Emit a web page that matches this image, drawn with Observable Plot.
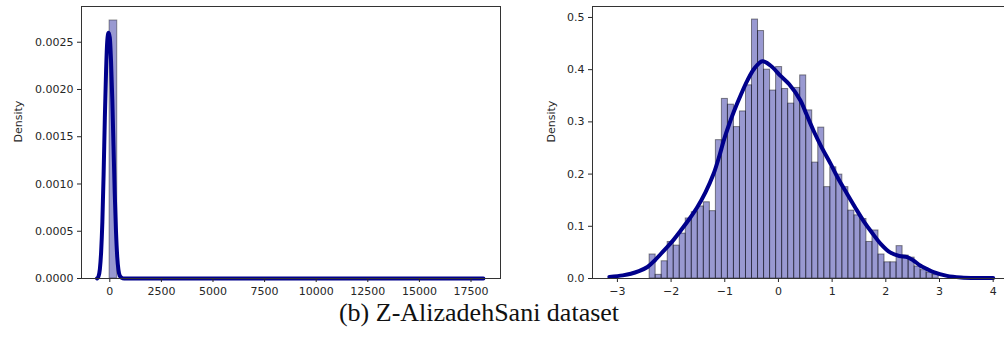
<!DOCTYPE html>
<html>
<head>
<meta charset="utf-8">
<script src="https://cdn.jsdelivr.net/npm/d3@7"></script>
<script src="https://cdn.jsdelivr.net/npm/@observablehq/plot@0.6"></script>
<style>
  html, body { margin: 0; padding: 0; background: #fff; }
  #wrap { position: relative; width: 1004px; height: 338px; overflow: hidden; background: #fff; }
  #left { position: absolute; left: 0; top: 0; width: 505px; }
  #right { position: absolute; left: 540px; top: 0; width: 472px; }
  #caption { position: absolute; left: 0; width: 958px; top: 298px; text-align: center;
    font-family: "Liberation Serif", "Times New Roman", serif; font-size: 26px; color: #111; }
</style>
</head>
<body>
<div id="wrap">
  <div id="left"></div>
  <div id="right"></div>
  <div id="caption">(b) Z-AlizadehSani dataset</div>
</div>
<script>
// ---------- Left panel (raw values) ----------
const leftXTicks = [0, 2500, 5000, 7500, 10000, 12500, 15000, 17500];
const leftYTicks = [0, 0.0005, 0.0010, 0.0015, 0.0020, 0.0025];
const leftBinStarts = [-10];
const leftBinEnds = [362];
const leftBinHeights = [0.00273];
const leftKdeX = [-620, -550, -480, -420, -360, -300, -240, -180, -120, -60, 0, 60, 120, 180, 240, 300, 360, 420, 480, 560, 700, 18100];
const leftKdeY = [0.0, 0.00002, 0.0001, 0.00028, 0.0006, 0.0011, 0.0017, 0.0022, 0.00252, 0.0026, 0.00255, 0.0023, 0.0019, 0.0014, 0.0009, 0.0005, 0.00023, 0.00009, 0.00003, 0.00001, 0.0, 0.0];

// ---------- Right panel (z-scored values) ----------
const rightXTicks = [-3, -2, -1, 0, 1, 2, 3, 4];
const rightYTicks = [0, 0.1, 0.2, 0.3, 0.4, 0.5];
const rightBinStart = -2.40;
const rightBinWidth = 0.1122;
const rightBinHeights = [
  0.046, 0.007, 0.033, 0.070, 0.063, 0.086, 0.115, 0.127, 0.138, 0.146,
  0.129, 0.265, 0.344, 0.333, 0.290, 0.320, 0.370, 0.496, 0.474, 0.400,
  0.360, 0.405, 0.363, 0.335, 0.365, 0.389, 0.322, 0.222, 0.289, 0.175,
  0.213, 0.199, 0.175, 0.130, 0.121, 0.114, 0.070, 0.092, 0.046, 0.031,
  0.031, 0.062, 0.044, 0.040, 0.023, 0.016, 0.011, 0.007
];
const rightKdeX = [-3.15, -2.9, -2.75, -2.6, -2.44, -2.3, -2.13, -1.97, -1.82, -1.66, -1.51, -1.36, -1.21, -1.1, -1.02, -0.92, -0.83, -0.7, -0.58, -0.45, -0.3, -0.15, 0.04, 0.2, 0.41, 0.52, 0.65, 0.8, 0.97, 1.12, 1.28, 1.43, 1.58, 1.74, 1.9, 2.08, 2.25, 2.4, 2.52, 2.64, 2.77, 2.89, 3.14, 3.4, 3.7, 4.0];
const rightKdeY = [0.003, 0.006, 0.009, 0.014, 0.022, 0.035, 0.054, 0.072, 0.092, 0.114, 0.137, 0.165, 0.20, 0.235, 0.264, 0.295, 0.32, 0.352, 0.379, 0.402, 0.416, 0.408, 0.388, 0.372, 0.341, 0.315, 0.284, 0.252, 0.22, 0.19, 0.162, 0.136, 0.111, 0.088, 0.067, 0.05, 0.043, 0.041, 0.034, 0.025, 0.018, 0.012, 0.005, 0.002, 0.001, 0.001];

// ---------- Build tables ----------
const leftBins = leftBinHeights.map((h, i) => ({x1: leftBinStarts[i], x2: leftBinEnds[i], y: h}));
const leftKde = leftKdeX.map((x, i) => ({x, y: leftKdeY[i]}));
const rightBins = rightBinHeights.map((h, i) => ({x1: rightBinStart + i * rightBinWidth, x2: rightBinStart + (i + 1) * rightBinWidth, y: h}));
const rightKde = rightKdeX.map((x, i) => ({x, y: rightKdeY[i]}));

const TXT = "#262626";
const BAR_FILL = "#00008b";
const LINE = "#00008b";
const baseStyle = {fontFamily: "'DejaVu Sans', sans-serif", fontSize: "11px", color: TXT, background: "white", overflow: "visible", maxWidth: "none"};

const left = Plot.plot({
  width: 505, height: 300,
  marginLeft: 81, marginRight: 5, marginTop: 6, marginBottom: 22,
  style: baseStyle,
  x: {domain: [-1371, 18929]},
  y: {domain: [0, 0.002878]},
  marks: [
    Plot.rectY(leftBins, {x1: "x1", x2: "x2", y: "y", fill: BAR_FILL, fillOpacity: 0.4, stroke: "#000", strokeOpacity: 0.4, strokeWidth: 1, insetLeft: 0, insetRight: 0}),
    Plot.line(leftKde, {x: "x", y: "y", stroke: LINE, strokeWidth: 4, curve: "monotone-x", strokeLinejoin: "round", strokeLinecap: "round"}),
    Plot.axisX({ticks: leftXTicks, tickFormat: d3.format("d"), tickSize: 4, tickPadding: 5, label: null, stroke: TXT}),
    Plot.axisY({ticks: leftYTicks, tickFormat: d3.format(".4f"), tickSize: 4, tickPadding: 4, label: null, stroke: TXT}),
    Plot.text(["Density"], {text: d => d, frameAnchor: "left", dx: -63, rotate: -90, fontSize: 11, fill: TXT}),
    Plot.frame({stroke: "#333"})
  ]
});
document.getElementById("left").appendChild(left);

const right = Plot.plot({
  width: 472, height: 300,
  marginLeft: 52, marginRight: 0, marginTop: 6, marginBottom: 22,
  style: baseStyle,
  x: {domain: [-3.464, 4.36]},
  y: {domain: [0, 0.521]},
  marks: [
    Plot.rectY(rightBins, {x1: "x1", x2: "x2", y: "y", fill: BAR_FILL, fillOpacity: 0.4, stroke: "#000", strokeOpacity: 0.45, strokeWidth: 1, insetLeft: 0, insetRight: 0}),
    Plot.line(rightKde, {x: "x", y: "y", stroke: LINE, strokeWidth: 4, curve: "catmull-rom", strokeLinejoin: "round", strokeLinecap: "round"}),
    Plot.axisX({ticks: rightXTicks, tickFormat: d3.format("d"), tickSize: 4, tickPadding: 5, label: null, stroke: TXT}),
    Plot.axisY({ticks: rightYTicks, tickFormat: d3.format(".1f"), tickSize: 4, tickPadding: 4, label: null, stroke: TXT}),
    Plot.text(["Density"], {text: d => d, frameAnchor: "left", dx: -41, rotate: -90, fontSize: 11, fill: TXT}),
    Plot.frame({stroke: "#333"})
  ]
});
document.getElementById("right").appendChild(right);
</script>
</body>
</html>
